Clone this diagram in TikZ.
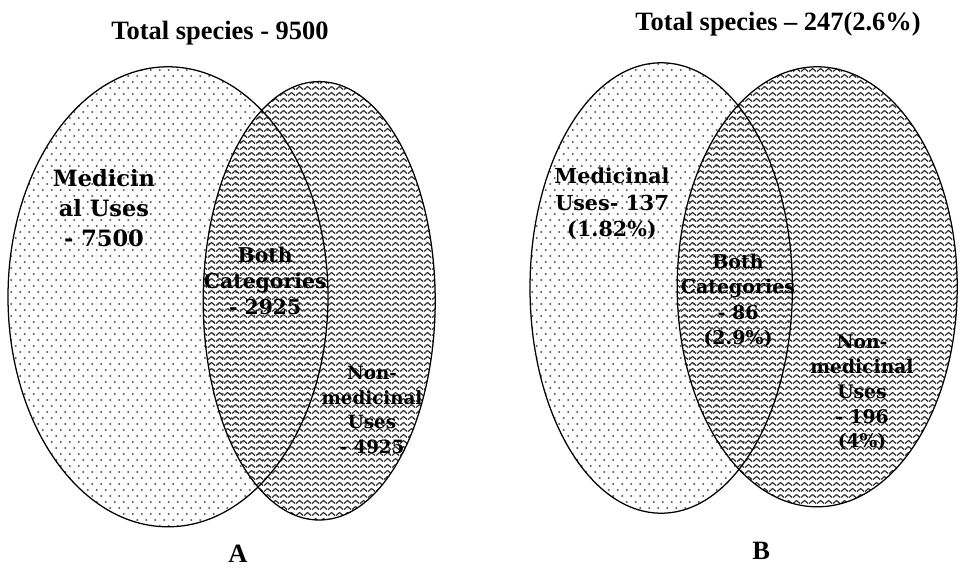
\documentclass[tikz,border=0pt]{standalone}
\usepackage{fontspec}
\setmainfont{Liberation Serif}
\newfontfamily\venfont{DejaVu Serif}
\usetikzlibrary{patterns}

% fill patterns of the two sets
\pgfdeclarepatternformonly{waves}{\pgfpoint{0pt}{0pt}}{\pgfpoint{5.7pt}{4.25pt}}{\pgfpoint{5.7pt}{4.25pt}}{%
  \pgfsetlinewidth{0.9pt}
  \pgfsetroundjoin
  \pgfpathmoveto{\pgfpoint{0pt}{1pt}}
  \pgfpathlineto{\pgfpoint{2.85pt}{3.2pt}}
  \pgfpathlineto{\pgfpoint{5.7pt}{1pt}}
  \pgfusepath{stroke}}
\pgfdeclarepatternformonly{specks}{\pgfpoint{0pt}{0pt}}{\pgfpoint{6.4pt}{8.5pt}}{\pgfpoint{6.4pt}{8.5pt}}{%
  \pgfpathcircle{\pgfpoint{1.6pt}{2.1pt}}{0.8pt}
  \pgfpathcircle{\pgfpoint{4.8pt}{6.35pt}}{0.8pt}
  \pgfusepath{fill}}

\tikzset{
  medset/.style={pattern=specks, pattern color=black!65},
  nonset/.style={pattern=waves, pattern color=black!80},
  rim/.style={line width=0.9pt},
  title/.style={font=\bfseries\fontsize{18.8}{22}\selectfont},
  lab/.style 2 args={align=center, font=\venfont\bfseries\fontsize{#1}{#2}\selectfont}
}

\begin{document}
\begin{tikzpicture}
\useasboundingbox (0,0) rectangle (24.025,14.25);
% A
\fill[medset] (4.20,6.83) ellipse (4.0 and 5.75);
\fill[nonset] (7.98,6.73) ellipse (2.9 and 5.48);
\draw[rim] (4.20,6.83) ellipse (4.0 and 5.75);
\draw[rim] (7.98,6.73) ellipse (2.9 and 5.48);
% B
\fill[medset] (16.53,7.05) ellipse (3.28 and 5.63);
\fill[nonset] (20.43,7.08) ellipse (3.5 and 5.5);
\draw[rim] (16.53,7.05) ellipse (3.28 and 5.63);
\draw[rim] (20.43,7.08) ellipse (3.5 and 5.5);

\node[title] (totA) at (5.50,13.42) {Total species - 9500};
\node[title] (totB) at (19.45,13.65) {Total species -- 247(2.6\%)};

\node[lab={16}{21.3}] (medA) at (2.60,9.05) {Medicin\\al Uses\\- 7500};
\node[lab={14.5}{18.4}] (bothA) at (6.63,7.23) {Both\\Categories\\- 2925};
\node[lab={13}{17.7}] (nonA) at (9.30,4.00) {Non-\\medicinal\\Uses\\- 4925};

\node[lab={14.7}{18.8}] (medB) at (15.30,9.15) {Medicinal\\Uses- 137\\(1.82\%)};
\node[lab={13.5}{18.2}] (bothB) at (18.45,6.73) {Both\\Categories\\- 86\\(2.9\%)};
\node[lab={13.3}{17.7}] (nonB) at (21.55,4.43) {Non-\\medicinal\\Uses\\- 196\\(4\%)};

\node[title, inner sep=0pt] (capA) at (5.95,0.40) {A};
\node[title, inner sep=0pt] (capB) at (19.03,0.48) {B};
\end{tikzpicture}
\end{document}
